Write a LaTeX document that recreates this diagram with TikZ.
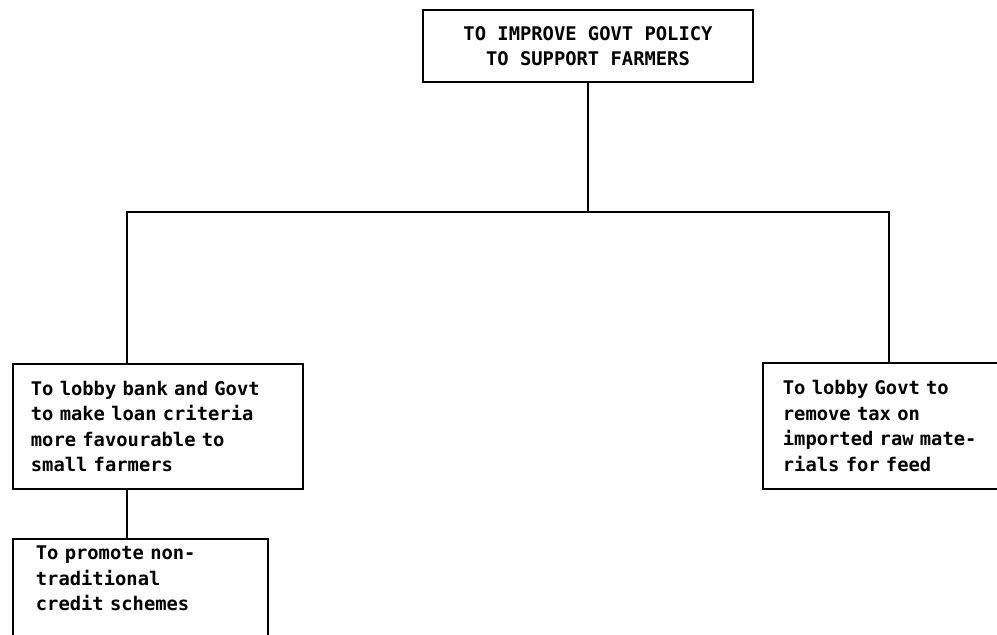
\documentclass[tikz,border=0pt]{standalone}
\usepackage{fontspec}
\setmonofont{DejaVu Sans Mono}
\tikzset{
  box/.style={draw, rectangle, line width=1.8pt, align=left,
    font=\ttfamily\bfseries\fontsize{18.8}{25.5}\selectfont},
  link/.style={line width=1.8pt}
}

\begin{document}
\begin{tikzpicture}[x=1pt, y=-1pt]
\useasboundingbox (0,0) rectangle (997,635);
% objective tree
\node[box, align=center, minimum width=330pt, minimum height=72pt] (goal) at (588,46)
  {TO IMPROVE GOVT POLICY\\TO SUPPORT FARMERS};
\node[box, anchor=north west, text width=254pt, inner xsep=18pt, minimum height=125pt] (loan) at (12,363)
  {To lobby bank and Govt\\to make loan criteria\\more favourable to\\small farmers};
\node[box, anchor=north west, text width=250pt, inner xsep=20pt, minimum height=126pt] (feed) at (762,362)
  {To lobby Govt to\\remove tax on\\imported raw mate-\\rials for feed};
\node[box, anchor=north west, text width=209pt, inner xsep=23pt, inner ysep=7pt] (credit) at (12,538)
  {To promote non-\\traditional\\credit schemes\\[45pt]\mbox{}};

\coordinate (fork) at (goal.south |- 0,212);
\coordinate (forkL) at (127,212);
\coordinate (forkR) at (889,212);
\draw[link] (goal) -- (fork);
\draw[link] (forkL |- loan.north) -- (forkL) -- (forkR) -- (forkR |- feed.north);
\draw[link] (forkL |- loan.south) -- (forkL |- credit.north);
\end{tikzpicture}
\end{document}
